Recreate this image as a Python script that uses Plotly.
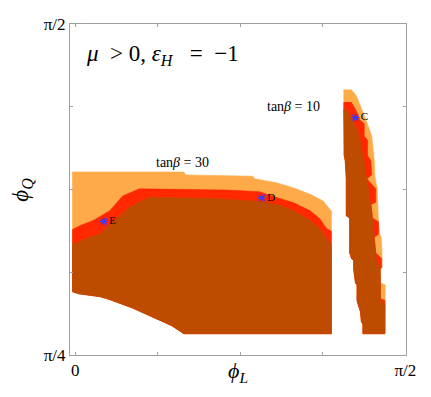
import math
import plotly.graph_objects as go

ORANGE = "#FFAA48"
RED = "#FF2800"
BROWN = "#BD4B00"
FONT = "Liberation Serif, DejaVu Serif, serif"
SP = "\u00a0"

# left region (tan beta = 30): boundary curves, phi_L -> phi_Q
orange_top_L = [-0.014, 0.517, 0.526, 0.845, 0.854, 0.962, 1.040, 1.118, 1.180, 1.204, 1.219]
orange_top_Q = [1.220, 1.220, 1.213, 1.210, 1.204, 1.194, 1.182, 1.167, 1.151, 1.137, 1.127]

red_top_L = [-0.014, 0.025, 0.086, 0.165, 0.226, 0.306, 0.727, 0.877, 0.962, 1.040, 1.118, 1.164, 1.196, 1.219]
red_top_Q = [1.083, 1.093, 1.105, 1.128, 1.163, 1.180, 1.177, 1.173, 1.159, 1.147, 1.128, 1.109, 1.086, 1.079]

brown_top_L = [-0.014, 0.025, 0.119, 0.198, 0.259, 0.353, 0.657, 0.882, 0.962, 1.040, 1.118, 1.164, 1.196, 1.219]
brown_top_Q = [1.047, 1.056, 1.074, 1.109, 1.137, 1.160, 1.157, 1.150, 1.143, 1.128, 1.105, 1.086, 1.063, 1.046]

bottom_L = [-0.014, 0.016, 0.119, 0.165, 0.273, 0.386, 0.460, 0.517, 1.219]
bottom_Q = [0.936, 0.931, 0.924, 0.917, 0.897, 0.871, 0.855, 0.836, 0.836]

# right strip (tan beta = 10): rows of phi_Q with left edge and right edge of each colour
strip_Q = [1.416, 1.402, 1.386, 1.370, 1.358, 1.344, 1.335, 1.328, 1.305, 1.296,
           1.259, 1.247, 1.213, 1.204, 1.180, 1.148, 1.143, 1.116, 1.111, 1.102,
           1.072, 1.065, 1.028, 1.014, 1.010, 0.993, 0.989, 0.956, 0.952, 0.919,
           0.915, 0.906, 0.889, 0.864, 0.859, 0.836]
strip_left = [1.278, 1.278, 1.278, 1.278, 1.278, 1.278, 1.278, 1.278, 1.278, 1.278,
              1.280, 1.285, 1.290, 1.290, 1.290, 1.290, 1.290, 1.290, 1.306, 1.306,
              1.306, 1.306, 1.306, 1.315, 1.325, 1.325, 1.325, 1.334, 1.341, 1.341,
              1.341, 1.346, 1.357, 1.362, 1.369, 1.369]
strip_brown = [1.278, 1.278, 1.278, 1.290, 1.304, 1.318, 1.327, 1.336, 1.352, 1.355,
               1.368, 1.374, 1.383, 1.388, 1.397, 1.404, 1.407, 1.414, 1.414, 1.416,
               1.422, 1.423, 1.430, 1.432, 1.435, 1.449, 1.451, 1.453, 1.453, 1.453,
               1.453, 1.474, 1.474, 1.474, 1.474, 1.474]
strip_red = [1.278, 1.278, 1.313, 1.332, 1.344, 1.353, 1.375, 1.375, 1.375, 1.391,
             1.391, 1.407, 1.411, 1.388, 1.430, 1.430, 1.407, 1.414, 1.414, 1.443,
             1.443, 1.423, 1.430, 1.458, 1.458, 1.458, 1.451, 1.453, 1.453, 1.453,
             1.474, 1.474, 1.474, 1.474, 1.474, 1.474]
strip_orange = [1.313, 1.336, 1.350, 1.364, 1.371, 1.383, 1.390, 1.395, 1.411, 1.416,
                1.421, 1.423, 1.425, 1.428, 1.437, 1.439, 1.439, 1.442, 1.442, 1.443,
                1.449, 1.456, 1.460, 1.460, 1.460, 1.460, 1.451, 1.453, 1.475, 1.475,
                1.475, 1.474, 1.474, 1.474, 1.474, 1.474]

# benchmark points
point_names = ["C", "D", "E"]
point_L = [1.333, 0.888, 0.137]
point_Q = [1.349, 1.1585, 1.1026]


def region(top_L, top_Q):
    xs = top_L + bottom_L[::-1]
    ys = top_Q + bottom_Q[::-1]
    return xs, ys


def strip(right):
    rows = [(q, l, r) for q, l, r in zip(strip_Q, strip_left, right) if r > l]
    xs = [l for q, l, r in rows] + [r for q, l, r in rows[::-1]]
    ys = [q for q, l, r in rows] + [q for q, l, r in rows[::-1]]
    return xs, ys


fig = go.Figure()

for (xs, ys), col in [(region(orange_top_L, orange_top_Q), ORANGE),
                      (region(red_top_L, red_top_Q), RED),
                      (region(brown_top_L, brown_top_Q), BROWN),
                      (strip(strip_orange), ORANGE),
                      (strip(strip_red), RED),
                      (strip(strip_brown), BROWN)]:
    fig.add_trace(go.Scatter(x=xs, y=ys, mode="lines", fill="toself",
                             fillcolor=col, line=dict(width=0.6, color=col),
                             hoverinfo="skip", showlegend=False))

fig.add_trace(go.Scatter(
    x=point_L, y=point_Q, mode="markers+text", text=point_names,
    textposition="middle right",
    textfont=dict(family=FONT, size=11, color="black"),
    marker=dict(symbol="asterisk-open", size=7, color="#3a3aff",
                line=dict(color="#3a3aff", width=1.2)),
    showlegend=False))

fig.add_annotation(x=0.044, y=1.499, xref="x", yref="y", xanchor="left",
                   text="<i>μ</i>" + SP * 2 + ">" + SP + "0, <i>ε</i><sub><i>H</i></sub>"
                        + SP * 3 + "=" + SP * 2 + "−1",
                   showarrow=False, font=dict(family=FONT, size=23, color="black"))
fig.add_annotation(x=0.512, y=1.2435, xref="x", yref="y",
                   text="tan<i>β</i>" + SP + "=" + SP + "30", showarrow=False,
                   font=dict(family=FONT, size=14, color="black"))
fig.add_annotation(x=1.0365, y=1.376, xref="x", yref="y",
                   text="tan<i>β</i>" + SP + "=" + SP + "10", showarrow=False,
                   font=dict(family=FONT, size=14, color="black"))
fig.add_annotation(x=0.4997, y=-0.1, xref="paper", yref="paper",
                   xanchor="center", yanchor="bottom",
                   text="<i>ϕ</i><sub><i>L</i></sub>", showarrow=False,
                   font=dict(family=FONT, size=22, color="black"))
fig.add_annotation(x=-0.145, y=0.5, xref="paper", yref="paper", textangle=-90,
                   xanchor="center", yanchor="middle",
                   text="<i>ϕ</i><sub><i>Q</i></sub>", showarrow=False,
                   font=dict(family=FONT, size=23, color="black"))

axis_common = dict(showgrid=False, zeroline=False, showline=True, linecolor="#a0a0a0",
                   linewidth=1, mirror="ticks", ticks="inside", ticklen=3,
                   tickcolor="#a0a0a0", ticklabeloverflow="allow",
                   tickfont=dict(family=FONT, size=17, color="black"))

# the page adds an 8px body margin, so the figure is sized to fit the window without scrollbars
fig.update_layout(
    width=415, height=381,
    margin=dict(l=62, r=12, t=7, b=34),
    plot_bgcolor="white", paper_bgcolor="white",
    xaxis=dict(range=[-0.0244, 1.574],
               tickvals=[0, math.pi / 8, math.pi / 4, 3 * math.pi / 8, math.pi / 2],
               ticktext=["0", "", "", "", "π/2"], **axis_common),
    yaxis=dict(range=[math.pi / 4, 1.5715],
               tickvals=[math.pi / 4, 5 * math.pi / 16, 3 * math.pi / 8, 7 * math.pi / 16, math.pi / 2],
               ticktext=["π/4", "", "", "", "π/2"], **axis_common),
)

fig.write_html("out.html")
